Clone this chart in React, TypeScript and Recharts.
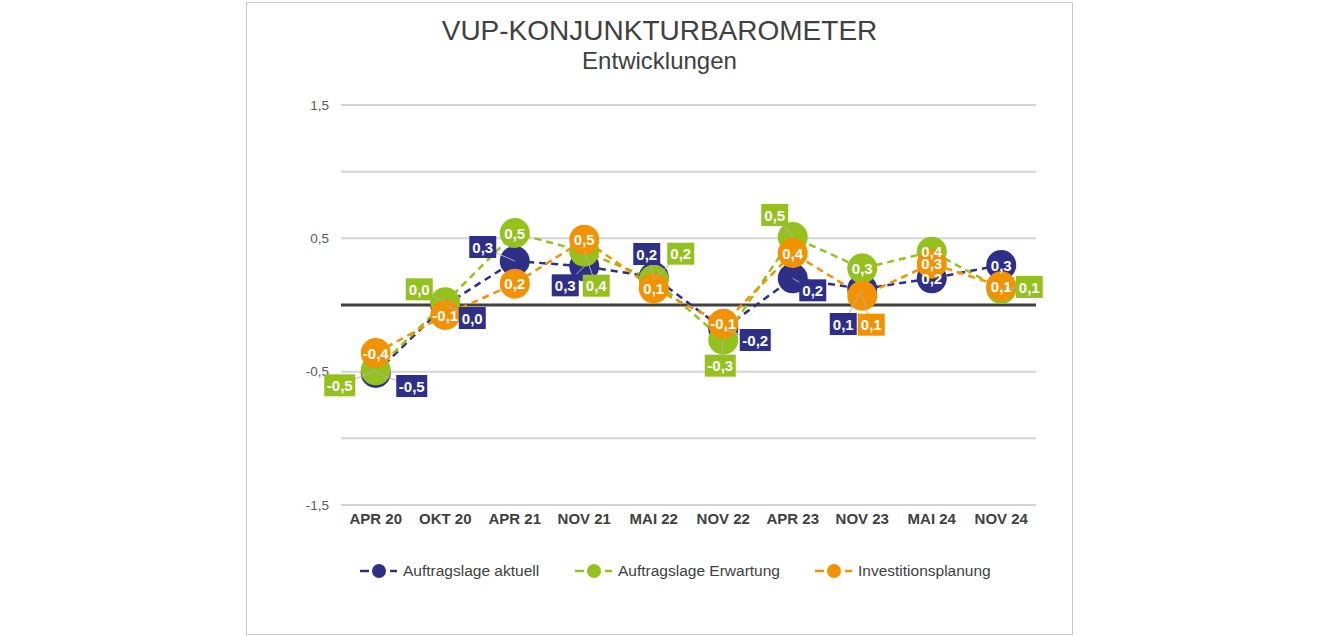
import React from "react";
import { LineChart, Line, XAxis, YAxis, ReferenceLine, LabelList } from "recharts";

const CATEGORIES = ["APR 20", "OKT 20", "APR 21", "NOV 21", "MAI 22", "NOV 22", "APR 23", "NOV 23", "MAI 24", "NOV 24"];
const AKTUELL = [-0.51, 0.0, 0.33, 0.29, 0.21, -0.18, 0.2, 0.12, 0.2, 0.3];
const ERWARTUNG = [-0.49, 0.02, 0.54, 0.4, 0.19, -0.26, 0.51, 0.275, 0.4, 0.12];
const INVEST = [-0.36, -0.075, 0.16, 0.49, 0.125, -0.14, 0.39, 0.07, 0.31, 0.14];
const Y_TICKS = [-1.5, -0.5, 0.5, 1.5];
const GRID_VALUES = [-1.5, -1, -0.5, 0.5, 1, 1.5];

// where each data label sits relative to its point (px)
const AKTUELL_SHIFT = [[36, 13], [27, 13], [-32, -14], [-19, 19], [-7, -23], [32, 11], [20, 12], [-19, 35], [0, 0], [0, 0]];
const ERWARTUNG_SHIFT = [[-36, 15], [-26, -13], [0, 0], [12, 34], [27, -26], [-3, 26], [-18, -22], [0, 0], [0, 0], [28, -2]];
const INVEST_SHIFT = [[0, 0], [0, 0], [0, 0], [0, 0], [0, 0], [0, 0], [0, 0], [9, 29], [0, 0], [0, 0]];

const NAVY = "#2E3087";
const GREEN = "#95C11F";
const ORANGE = "#F39200";
const FONT = "'Liberation Sans', Arial, sans-serif";

const data = CATEGORIES.map((c, i) => ({
  name: c,
  aktuell: AKTUELL[i],
  erwartung: ERWARTUNG[i],
  invest: INVEST[i],
}));

const fmt = (v: number) => (Math.round(v * 10) / 10).toFixed(1).replace(".", ",").replace("-0,0", "0,0");

function makeLabel(color: string, shifts: number[][]) {
  return (props: any) => {
    const x = props.x ?? props.viewBox?.x;
    const y = props.y ?? props.viewBox?.y;
    const i = props.index ?? 0;
    if (x == null || y == null) return null;
    const [dx, dy] = shifts[i] || [0, 0];
    const txt = fmt(Number(props.value));
    const w = txt.length * 4 + 15;
    const h = 22;
    const cx = x + dx;
    const cy = y + dy;
    const boxed = dx !== 0 || dy !== 0;
    return (
      <g key={`lbl-${color}-${i}`}>
        {boxed && <line x1={x} y1={y} x2={cx} y2={cy} stroke="#b0b0b0" strokeWidth={1} />}
        {boxed && <rect x={cx - w / 2} y={cy - h / 2} width={w} height={h} fill={color} />}
        <text
          x={cx}
          y={cy}
          textAnchor="middle"
          dominantBaseline="central"
          fill="#fff"
          fontFamily={FONT}
          fontWeight="bold"
          fontSize={15}
        >
          {txt}
        </text>
      </g>
    );
  };
}

const LEGEND = [
  { label: "Auftragslage aktuell", color: NAVY, left: 113 },
  { label: "Auftragslage Erwartung", color: GREEN, left: 328 },
  { label: "Investitionsplanung", color: ORANGE, left: 568 },
];

export default function App() {
  return (
    <div
      style={{
        position: "absolute",
        left: 246,
        top: 2,
        width: 827,
        height: 633,
        boxSizing: "border-box",
        border: "1px solid #c9c9c9",
        background: "#fff",
        fontFamily: FONT,
      }}
    >
      <div style={{ position: "absolute", left: 0, right: 0, top: 14, textAlign: "center", fontSize: 28, lineHeight: "28px", color: "#404040" }}>
        VUP-KONJUNKTURBAROMETER
      </div>
      <div style={{ position: "absolute", left: 0, right: 0, top: 46, textAlign: "center", fontSize: 24, lineHeight: "24px", color: "#404040" }}>
        Entwicklungen
      </div>
      <div style={{ position: "absolute", left: 0, top: 0 }}>
        <LineChart width={825} height={631} data={data} margin={{ top: 102, right: 36, bottom: 99, left: 0 }}>
          <XAxis
            dataKey="name"
            height={30}
            axisLine={false}
            tickLine={false}
            interval={0}
            padding={{ left: 34.75, right: 34.75 }}
            tick={{ fill: "#404040", fontSize: 15, fontWeight: "bold", fontFamily: FONT }}
          />
          <YAxis
            width={94}
            domain={[-1.5, 1.5]}
            ticks={Y_TICKS}
            axisLine={false}
            tickLine={false}
            tickMargin={6}
            tickFormatter={(v: number) => v.toFixed(1).replace(".", ",")}
            tick={{ fill: "#595959", fontSize: 13.5, fontFamily: FONT }}
          />
          {GRID_VALUES.map((v) => (
            <ReferenceLine key={v} y={v} stroke="#d4d4d4" strokeWidth={2} />
          ))}
          <ReferenceLine y={0} stroke="#404040" strokeWidth={3} />
          <Line
            dataKey="aktuell"
            stroke={NAVY}
            strokeWidth={2.5}
            strokeDasharray="7 5"
            dot={{ r: 15, fill: NAVY, stroke: "none" }}
            activeDot={false}
            isAnimationActive={false}
          />
          <Line
            dataKey="erwartung"
            stroke={GREEN}
            strokeWidth={2.5}
            strokeDasharray="7 5"
            dot={{ r: 15, fill: GREEN, stroke: "none" }}
            activeDot={false}
            isAnimationActive={false}
          />
          <Line
            dataKey="invest"
            stroke={ORANGE}
            strokeWidth={2.5}
            strokeDasharray="7 5"
            dot={{ r: 15, fill: ORANGE, stroke: "none" }}
            activeDot={false}
            isAnimationActive={false}
          />
          <Line dataKey="aktuell" stroke="none" dot={false} activeDot={false} legendType="none" isAnimationActive={false}>
            <LabelList dataKey="aktuell" content={makeLabel(NAVY, AKTUELL_SHIFT)} />
          </Line>
          <Line dataKey="erwartung" stroke="none" dot={false} activeDot={false} legendType="none" isAnimationActive={false}>
            <LabelList dataKey="erwartung" content={makeLabel(GREEN, ERWARTUNG_SHIFT)} />
          </Line>
          <Line dataKey="invest" stroke="none" dot={false} activeDot={false} legendType="none" isAnimationActive={false}>
            <LabelList dataKey="invest" content={makeLabel(ORANGE, INVEST_SHIFT)} />
          </Line>
        </LineChart>
      </div>
      {LEGEND.map((l) => (
        <div
          key={l.label}
          style={{ position: "absolute", left: l.left, top: 558, height: 20, display: "flex", alignItems: "center", fontSize: 15.5, color: "#404040" }}
        >
          <svg width={38} height={16} style={{ marginRight: 5 }}>
            <line x1={0} y1={8} x2={9} y2={8} stroke={l.color} strokeWidth={2.5} />
            <circle cx={19} cy={8} r={7} fill={l.color} />
            <line x1={30} y1={8} x2={37} y2={8} stroke={l.color} strokeWidth={2.5} />
          </svg>
          <span>{l.label}</span>
        </div>
      ))}
    </div>
  );
}
